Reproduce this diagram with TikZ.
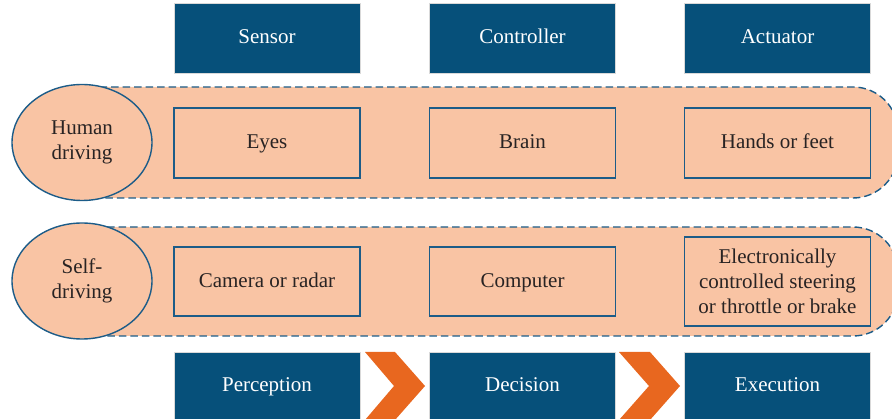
\documentclass[tikz,border=0pt]{standalone}
\usepackage{fontspec}
\setmainfont{Liberation Serif}
\usetikzlibrary{shapes.geometric}

\definecolor{navy}{RGB}{6,80,122}
\definecolor{peach}{RGB}{249,196,164}
\definecolor{edgeblue}{RGB}{28,92,136}
\definecolor{chev}{RGB}{232,103,31}
\definecolor{ink}{RGB}{40,35,35}

\tikzset{
  oneline/.style={text height=15pt, text depth=3pt},
  headbox/.style={rectangle, fill=navy, draw=black!15, line width=0.6pt,
    minimum width=186pt, minimum height=70pt, text=white, oneline,
    font=\fontsize{21}{25}\selectfont},
  itembox/.style={rectangle, draw=edgeblue, line width=1.1pt,
    minimum width=186pt, minimum height=70pt, text=ink, align=center,
    font=\fontsize{21}{25}\selectfont},
  band/.style={draw=edgeblue, fill=peach, line width=1.4pt,
    dash pattern=on 7.5pt off 4pt, rounded corners=45pt},
  rowlabel/.style={ellipse, draw=edgeblue, fill=peach, line width=1.4pt,
    minimum width=140pt, minimum height=116pt, inner sep=0pt, text=ink,
    align=center, font=\fontsize{21}{25}\selectfont},
  chevron/.style={fill=chev, draw=none}
}

\begin{document}
\begin{tikzpicture}[x=1pt, y=-1pt]
  \useasboundingbox (0,0) rectangle (892,419);

  % column headers
  \node[headbox] (sensor)     at (267,38)   {Sensor};
  \node[headbox] (controller) at (522.5,38) {Controller};
  \node[headbox] (actuator)   at (777.5,38) {Actuator};

  % human driving row
  \draw[band] (60,87) rectangle (898,198);
  \node[rowlabel] (human) at (82,142.5) {Human\\driving};
  \node[itembox, oneline] (eyes)  at (267,143)   {Eyes};
  \node[itembox, oneline] (brain) at (522.5,143) {Brain};
  \node[itembox, oneline] (hands) at (777.5,143) {Hands or feet};

  % self-driving row
  \draw[band] (60,227) rectangle (898,336);
  \node[rowlabel] (self) at (82,281) {Self-\\driving};
  \node[itembox, oneline, minimum height=69pt] (camera)   at (267,281.5)   {Camera or radar};
  \node[itembox, oneline, minimum height=69pt] (computer) at (522.5,281.5) {Computer};
  \node[itembox, minimum height=89pt] (steering) at (777.5,281.5)
    {Electronically\\controlled steering\\or throttle or brake};

  % processing stages
  \node[headbox, minimum height=68pt] (perception) at (267,386)   {Perception};
  \node[headbox, minimum height=68pt] (decision)   at (522.5,386) {Decision};
  \node[headbox, minimum height=68pt] (execution)  at (777.5,386) {Execution};

  % chevrons between the stages
  \fill[chevron] (365,352) -- (395,352) -- (425,386) -- (395,420)
    -- (365,420) -- (394,386) -- cycle;
  \fill[chevron] (619,352) -- (650,352) -- (680,386) -- (650,420)
    -- (619,420) -- (649,386) -- cycle;
\end{tikzpicture}
\end{document}
